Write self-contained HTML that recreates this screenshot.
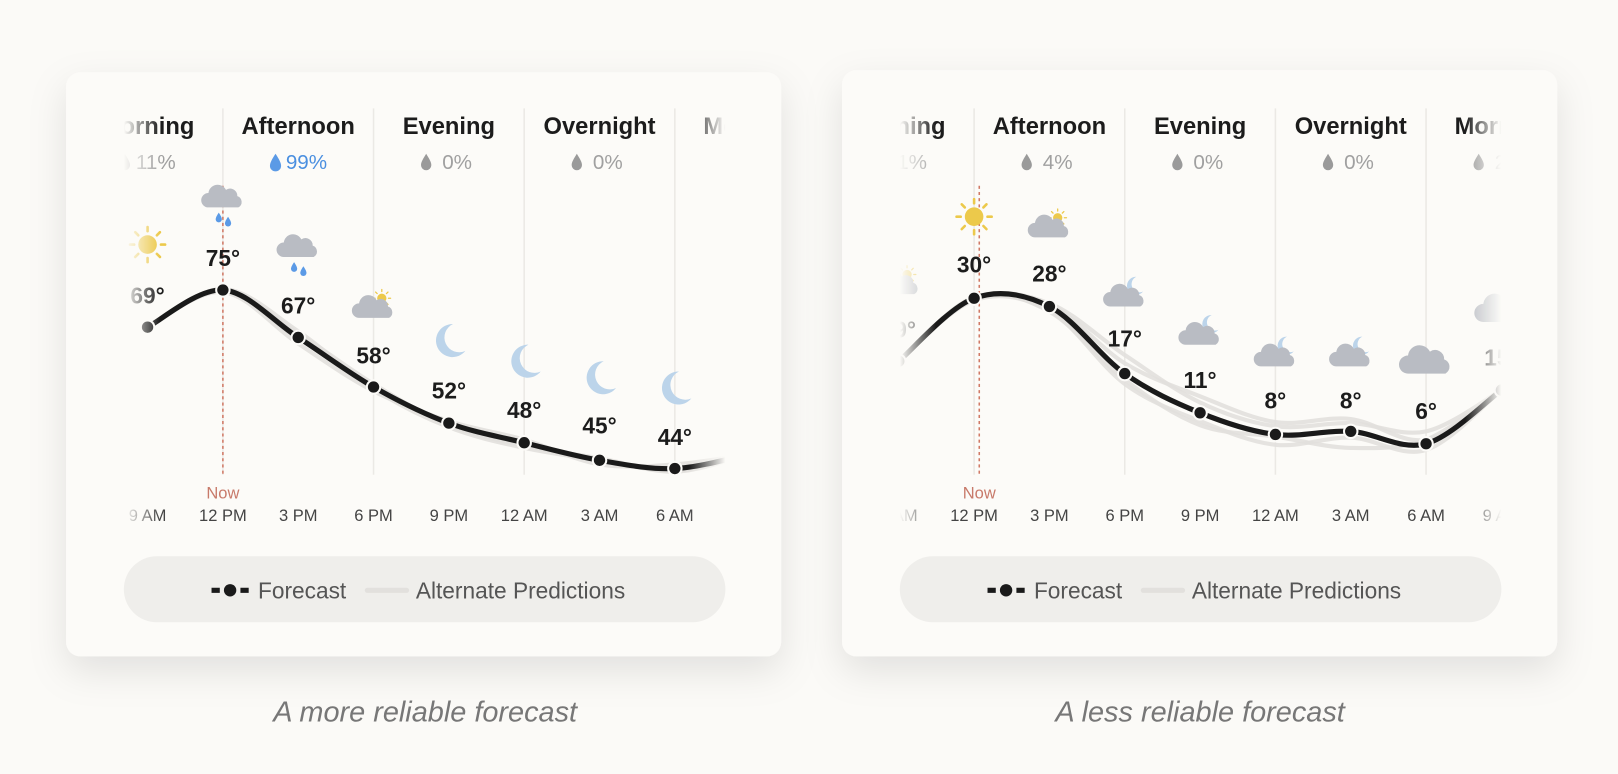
<!DOCTYPE html>
<html><head><meta charset="utf-8">
<style>
html,body{margin:0;padding:0;background:#fbfaf7;}
svg{display:block;font-family:"Liberation Sans",Arial,sans-serif;}
</style></head>
<body>
<svg id="s" width="1618" height="774" viewBox="0 0 1568 750" preserveAspectRatio="none" xmlns="http://www.w3.org/2000/svg">
<defs>
<filter id="sh" x="-20%" y="-20%" width="140%" height="150%"><feDropShadow dx="0" dy="14" stdDeviation="18" flood-color="#000" flood-opacity="0.10"/></filter>
<linearGradient id="fadeL" x1="0" x2="1"><stop offset="0" stop-color="#fff" stop-opacity="0"/><stop offset="0.06" stop-color="#fff" stop-opacity="1"/><stop offset="0.94" stop-color="#fff" stop-opacity="1"/><stop offset="1" stop-color="#fff" stop-opacity="0"/></linearGradient>
<mask id="m1" maskUnits="userSpaceOnUse" x="120" y="90" width="583" height="430"><rect x="120" y="90" width="583" height="430" fill="url(#fadeL)"/></mask>
<mask id="m2" maskUnits="userSpaceOnUse" x="872" y="90" width="583" height="430"><rect x="872" y="90" width="583" height="430" fill="url(#fadeL)"/></mask>
<g id="sun"><circle r="9" fill="#ecc94b"/><g stroke="#ecc94b" stroke-width="2.5" stroke-linecap="round"><line x1="0" y1="-13" x2="0" y2="-17"/><line x1="0" y1="13" x2="0" y2="17"/><line x1="-13" y1="0" x2="-17" y2="0"/><line x1="13" y1="0" x2="17" y2="0"/><line x1="9" y1="9" x2="12" y2="12"/><line x1="-9" y1="9" x2="-12" y2="12"/><line x1="9" y1="-9" x2="12" y2="-12"/><line x1="-9" y1="-9" x2="-12" y2="-12"/></g></g>
<g id="cloud"><path d="M-14 8 a7 7 0 0 1 0-14 a9 9 0 0 1 17-3 a7 7 0 0 1 11 6 a6 6 0 0 1 1 11z" fill="#b9bcc3"/></g>
<g id="moon"><path d="M4-16 a16 16 0 1 0 12 26 a13 13 0 0 1-12-26z" fill="#bcd4ea"/></g>
<g id="drop"><path d="M0-5 C2-2 3 0 3 1.5 a3 3 0 0 1-6 0 C-3 0-2-2 0-5z" fill="#5b9ae6"/></g>
<g id="gdrop"><path d="M0-9 C3-4 5-1 5 2 a5 5 0 0 1-10 0 C-5-1-3-4 0-9z" fill="#9a9a9a"/></g>
</defs>
<rect width="1568" height="750" fill="#fbfaf7"/>
<rect x="64" y="70" width="693" height="566" rx="14" fill="#fcfbf8" filter="url(#sh)"/>
<rect x="816" y="68" width="693" height="568" rx="14" fill="#fcfbf8" filter="url(#sh)"/>
<g id="c1" mask="url(#m1)"></g>
<g id="c2" mask="url(#m2)"></g>
<rect x="120" y="539" width="583" height="64" rx="32" fill="#efeeeb"/>
<rect x="872" y="539" width="583" height="64" rx="32" fill="#efeeeb"/>
<g id="leg"></g>
<text x="412" y="699" text-anchor="middle" font-style="italic" font-size="28" fill="#777">A more reliable forecast</text>
<text x="1163" y="699" text-anchor="middle" font-style="italic" font-size="28" fill="#777">A less reliable forecast</text>
</svg>
<script>
var NS="http://www.w3.org/2000/svg";
function el(p,t,a,txt){var e=document.createElementNS(NS,t);for(var k in a)e.setAttribute(k,a[k]);if(txt!=null)e.textContent=txt;p.appendChild(e);return e;}
function cr(pts){var d="M"+pts[0][0]+" "+pts[0][1];for(var i=0;i<pts.length-1;i++){var p0=pts[i-1]||pts[i],p1=pts[i],p2=pts[i+1],p3=pts[i+2]||p2;
var c1=[p1[0]+(p2[0]-p0[0])/6,p1[1]+(p2[1]-p0[1])/6],c2=[p2[0]-(p3[0]-p1[0])/6,p2[1]-(p3[1]-p1[1])/6];d+=" C"+c1+" "+c2+" "+p2;}return d;}
function chart(g,x0,cfg){
 var xs=[];for(var i=0;i<cfg.ys.length;i++)xs.push(x0+i*73);
 cfg.div.forEach(function(x){el(g,"line",{x1:x,y1:105,x2:x,y2:460,stroke:"#ebe9e5","stroke-width":1.5});});
 cfg.heads.forEach(function(h){el(g,"text",{x:h[0],y:130,"text-anchor":"middle","font-size":23,"font-weight":"bold",fill:"#1c1c1c"},h[1]);
  if(h[2]){var c=h[3]?"#4a8fe0":"#a0a0a0";el(g,"use",{href:h[3]?"#drop":"#gdrop",transform:"translate("+(h[0]-22)+",158)"+(h[3]?" scale(1.8)":"")});
  el(g,"text",{x:h[0]+8,y:164,"text-anchor":"middle","font-size":20,fill:c},h[2]);}});
 cfg.alts.forEach(function(a){var pts=xs.map(function(x,i){return [x,cfg.ys[i]+a[i]];});el(g,"path",{d:cr(pts),fill:"none",stroke:"#e2e0dd","stroke-width":4,opacity:0.9});});
 var pts=xs.map(function(x,i){return [x,cfg.ys[i]];});
 el(g,"line",{x1:cfg.now,y1:180,x2:cfg.now,y2:462,stroke:"#d07a66","stroke-width":1.5,"stroke-dasharray":"3,3"});
 el(g,"path",{d:cr(pts),fill:"none",stroke:"#1a1a1a","stroke-width":5,"stroke-linecap":"round"});
 pts.forEach(function(p){el(g,"circle",{cx:p[0],cy:p[1],r:6.5,fill:"#1a1a1a",stroke:"#fcfbf8","stroke-width":2});});
 el(g,"text",{x:cfg.now,y:483,"text-anchor":"middle","font-size":16,fill:"#c87a6a"},"Now");
 cfg.times.forEach(function(t,i){el(g,"text",{x:xs[i],y:505,"text-anchor":"middle","font-size":16,fill:"#444"},t);});
 cfg.temps.forEach(function(t,i){el(g,"text",{x:xs[i],y:cfg.ty[i],"text-anchor":"middle","font-size":22,"font-weight":"bold",fill:"#1c1c1c"},t);});
 cfg.icons.forEach(function(ic){var x=xs[ic[0]],y=ic[2];
  if(ic[1]=="sun")el(g,"use",{href:"#sun",transform:"translate("+x+","+y+")"});
  if(ic[1]=="moon")el(g,"use",{href:"#moon",transform:"translate("+x+","+y+")"});
  if(ic[1]=="cloud")el(g,"use",{href:"#cloud",transform:"translate("+x+","+y+") scale(1.25)"});
  if(ic[1]=="rain"){el(g,"use",{href:"#cloud",transform:"translate("+x+","+y+")"});el(g,"use",{href:"#drop",transform:"translate("+(x-4)+","+(y+18)+")"});el(g,"use",{href:"#drop",transform:"translate("+(x+5)+","+(y+22)+")"});}
  if(ic[1]=="psun"){el(g,"use",{href:"#sun",transform:"translate("+(x+8)+","+(y-9)+") scale(0.5)"});el(g,"use",{href:"#cloud",transform:"translate("+x+","+(y+2)+")"});}
  if(ic[1]=="cmoon"){el(g,"use",{href:"#moon",transform:"translate("+(x+9)+","+(y-10)+") scale(0.55)"});el(g,"use",{href:"#cloud",transform:"translate("+x+","+(y+2)+")"});}
 });
}
chart(document.getElementById("c1"),143,{
 ys:[317,281,327,375,410,429,446,454,440],
 div:[216,362,508,654],now:216,
 heads:[[143,"Morning","11%",0],[289,"Afternoon","99%",1],[435,"Evening","0%",0],[581,"Overnight","0%",0],[727,"Morning","",0]],
 alts:[[0,0,-4,-3,2,3,-2,3,0],[0,2,6,4,-2,-3,4,-4,0],[0,-1,-6,2,4,5,0,2,0]],
 times:["9 AM","12 PM","3 PM","6 PM","9 PM","12 AM","3 AM","6 AM","9 AM"],
 temps:["69°","75°","67°","58°","52°","48°","45°","44°"],
 ty:[294,258,304,352,386,405,420,431],
 icons:[[0,"sun",237],[1,"rain",193],[2,"rain",241],[3,"psun",298],[4,"moon",330],[5,"moon",350],[6,"moon",366],[7,"moon",376]]
});
chart(document.getElementById("c2"),871,{
 ys:[350,289,297,362,400,421,418,430,378],
 div:[944,1090,1236,1382],now:949,
 heads:[[871,"Morning","11%",0],[1017,"Afternoon","4%",0],[1163,"Evening","0%",0],[1309,"Overnight","0%",0],[1455,"Morning","2%",0]],
 alts:[[0,0,-3,-18,-10,-8,-8,-12,0],[0,2,4,10,8,10,6,6,0],[0,-1,5,6,12,2,16,-4,0],[0,0,-2,-10,-16,-12,-12,-4,0]],
 times:["9 AM","12 PM","3 PM","6 PM","9 PM","12 AM","3 AM","6 AM","9 AM"],
 temps:["19°","30°","28°","17°","11°","8°","8°","6°","15°"],
 ty:[327,264,273,336,376,396,396,406,354],
 icons:[[0,"psun",275],[1,"sun",210],[2,"psun",220],[3,"cmoon",287],[4,"cmoon",324],[5,"cmoon",345],[6,"cmoon",345],[7,"cloud",352],[8,"cloud",302]]
});
var L=document.getElementById("leg");
[120,872].forEach(function(o){var b=o-120;
 el(L,"line",{x1:b+205,y1:572,x2:b+241,y2:572,stroke:"#1a1a1a","stroke-width":5,"stroke-dasharray":"8,20"});
 el(L,"circle",{cx:b+223,cy:572,r:6,fill:"#1a1a1a"});
 el(L,"text",{x:b+250,y:580,"font-size":22,fill:"#555"},"Forecast");
 el(L,"line",{x1:b+356,y1:572,x2:b+394,y2:572,stroke:"#e2e0dd","stroke-width":5,"stroke-linecap":"round"});
 el(L,"text",{x:b+403,y:580,"font-size":22,fill:"#555"},"Alternate Predictions");
});
</script>
</body></html>
